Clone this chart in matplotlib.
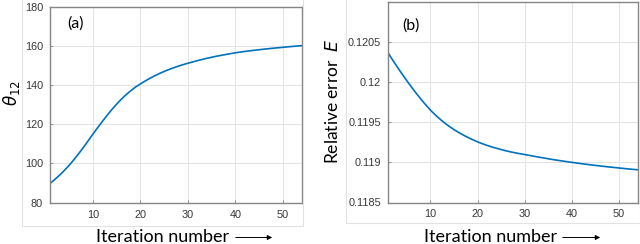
import matplotlib
matplotlib.use("Agg")
import matplotlib.pyplot as plt
from matplotlib.patches import Rectangle, FancyArrowPatch

iters = [1, 2, 3, 4, 5, 6, 7, 8, 9, 10, 11, 12, 13, 14, 15, 16, 17, 18, 19, 20,
         21, 22, 23, 24, 25, 26, 27, 28, 29, 30, 32, 34, 36, 38, 40, 42, 44, 46,
         48, 50, 52, 54]
theta12 = [89.8, 91.8, 94.0, 96.4, 99.0, 101.85, 104.9, 108.1, 111.45, 114.9,
           118.2, 121.4, 124.5, 127.45, 130.2, 132.75, 135.05, 137.1, 138.95, 140.5,
           142.0, 143.38, 144.65, 145.82, 146.89, 147.87, 148.77, 149.6, 150.37, 151.08,
           152.4, 153.6, 154.65, 155.55, 156.4, 157.1, 157.7, 158.25,
           158.75, 159.2, 159.65, 160.05]
rel_error = [0.120370, 0.120278, 0.120189, 0.120103, 0.120020, 0.119940, 0.119863,
             0.119789, 0.119719, 0.119653, 0.119595, 0.119542, 0.119494, 0.119450,
             0.119410, 0.119374, 0.119341, 0.119311, 0.119283, 0.119257,
             0.119234, 0.119213, 0.119194, 0.119177, 0.119161, 0.119146, 0.119132,
             0.119120, 0.119109, 0.119099, 0.119077, 0.119056, 0.119036, 0.119018,
             0.119001, 0.118985, 0.118970, 0.118956, 0.118943, 0.118931, 0.118919,
             0.118908]

xticks = [10, 20, 30, 40, 50]
yticks_a = [80, 100, 120, 140, 160, 180]
yticks_b = [0.1185, 0.119, 0.1195, 0.12, 0.1205]
ylabels_b = ["0.1185", "0.119", "0.1195", "0.12", "0.1205"]

plt.rcParams['font.family'] = ['Liberation Sans', 'DejaVu Sans']
line_col = '#0072BD'

fig = plt.figure(figsize=(6.4, 2.44), dpi=100)

# light panel frames
W, H = 640.0, 244.0
fig.patches.append(Rectangle((22 / W, 1 - 226 / H), (303 - 22) / W, 226 / H + 0.01,
                             transform=fig.transFigure, fill=False,
                             edgecolor='#e2e2e2', linewidth=0.8))
fig.patches.append(Rectangle((346 / W, 1 - 223 / H), (640 - 346) / W, 223 / H + 0.01,
                             transform=fig.transFigure, fill=False,
                             edgecolor='#e2e2e2', linewidth=0.8))

axa = fig.add_axes([50 / W, 1 - 202.7 / H, (302 - 50) / W, (202.7 - 6.5) / H])
axb = fig.add_axes([388 / W, 1 - 202.5 / H, (638 - 388) / W, (202.5 - 2.3) / H])


def style(ax):
    ax.set_xlim(1, 54)
    ax.set_xticks(xticks)
    ax.grid(True, color='#e4e4e4', linewidth=0.8)
    ax.set_axisbelow(True)
    for s in ax.spines.values():
        s.set_color('#858585')
        s.set_linewidth(1.0)
    ax.tick_params(direction='in', length=2.5, width=0.6, colors='#858585',
                   labelcolor='#383838', labelsize=7.8, pad=5)


axa.plot(iters, theta12, color=line_col, linewidth=1.2)
style(axa)
axa.set_ylim(80, 180)
axa.set_yticks(yticks_a)

axb.plot(iters, rel_error, color=line_col, linewidth=1.2)
style(axb)
axb.set_ylim(0.1185, 0.121)
axb.set_yticks(yticks_b)
axb.set_yticklabels(ylabels_b)

lab_font = ['Lato', 'DejaVu Sans']
fig.text(76 / W, 1 - 23.5 / H, '(a)', fontsize=11.5, ha='center', va='center',
         family=lab_font)
fig.text(410.5 / W, 1 - 26 / H, '(b)', fontsize=11.5, ha='center', va='center',
         family=lab_font)

fig.text(163 / W, 2.5 / H, 'Iteration number', fontsize=13, ha='center',
         va='baseline', family=lab_font)
fig.text(490.5 / W, 1.5 / H, 'Iteration number', fontsize=13, ha='center',
         va='baseline', family=lab_font)
for x0, x1 in [(233, 275), (560, 603)]:
    fig.patches.append(FancyArrowPatch(
        (x0 / W, 6.5 / H), (x1 / W, 6.5 / H), transform=fig.transFigure,
        arrowstyle='-|>', mutation_scale=7, color='black', linewidth=0.7))

fig.text(12 / W, 1 - 93 / H, r'$\theta_{12}$', fontsize=12, rotation=90,
         ha='center', va='center')
fig.text(333 / W, 1 - 101 / H, r'Relative error  $\it{E}$', fontsize=12.5,
         rotation=90, ha='center', va='center', family=lab_font)

fig.savefig('out.png', dpi=100)
